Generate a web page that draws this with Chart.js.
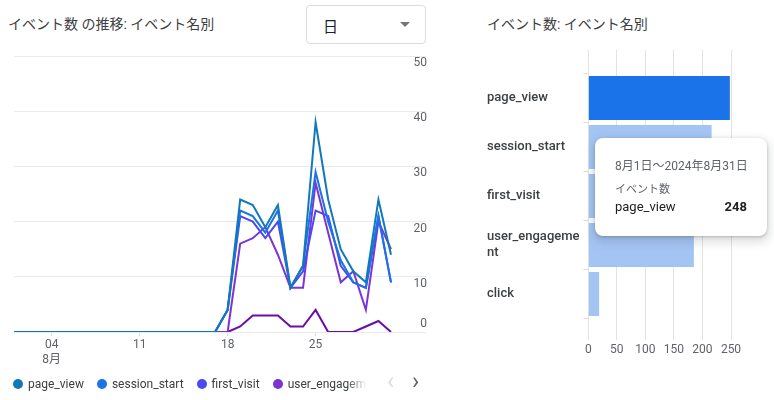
<!DOCTYPE html>
<html lang="ja">
<head>
<meta charset="utf-8">
<title>イベント数</title>
<script src="https://cdn.jsdelivr.net/npm/chart.js@4.4.1/dist/chart.umd.min.js"></script>
<style>
  html, body { margin: 0; padding: 0; background: #fff; }
  body { width: 774px; height: 400px; position: relative; overflow: hidden;
         font-family: Roboto, "Noto Sans CJK JP", sans-serif; }
  .title { position: absolute; top: 15px; font-size: 14px; line-height: 18px; color: #3c4043; white-space: nowrap; }
  .select { position: absolute; left: 306px; top: 5px; width: 118px; height: 37px;
            border: 1px solid #dadce0; border-radius: 4px; }
  .select span { position: absolute; left: 16px; top: 9px; font-size: 15px; color: #202124; }
  .select i { position: absolute; right: 15px; top: 16px; width: 0; height: 0;
              border-left: 5px solid transparent; border-right: 5px solid transparent; border-top: 5px solid #757575; }
  canvas { position: absolute; }
  #legend { position: absolute; left: 13px; top: 374px; width: 354px; height: 18px; overflow: hidden; white-space: nowrap;
            -webkit-mask-image: linear-gradient(to right, #000 334px, transparent 354px);
            mask-image: linear-gradient(to right, #000 334px, transparent 354px); }
  .item { display: inline-flex; align-items: center; margin-right: 13px; font-size: 12px; color: #3c4043; height: 18px; }
  .dot { width: 10px; height: 10px; border-radius: 50%; margin-right: 5px; }
  .arrow { position: absolute; top: 368px; font-size: 24px; line-height: 26px; }
  .tip { position: absolute; left: 595px; top: 138px; width: 172px; height: 98px; background: #fff;
         border-radius: 8px; box-shadow: 0 1px 3px rgba(60,64,67,.3), 0 4px 8px 3px rgba(60,64,67,.15); }
  .tip div { position: absolute; left: 20px; white-space: nowrap; }
  .tip .range { top: 18px; font-size: 12px; color: #5f6368; }
  .tip .metric { top: 42px; font-size: 11px; color: #5f6368; }
  .tip .name { top: 61px; font-size: 13px; color: #202124; }
  .tip .val { top: 61px; left: auto; right: 20px; font-size: 13px; font-weight: 700; color: #202124; }
</style>
</head>
<body>
<div class="title" style="left:8px">イベント数 の推移: イベント名別</div>
<div class="select"><span>日</span><i></i></div>
<div class="title" style="left:487px">イベント数: イベント名別</div>

<canvas id="lineChart" width="440" height="320" style="left:0;top:50px"></canvas>
<canvas id="barChart" width="287" height="320" style="left:487px;top:50px"></canvas>

<div id="legend"></div>
<div class="arrow" style="left:387px;color:#dadce0">‹</div>
<div class="arrow" style="left:412px;color:#5f6368">›</div>

<div class="tip">
  <div class="range">8月1日〜2024年8月31日</div>
  <div class="metric">イベント数</div>
  <div class="name">page_view</div>
  <div class="val">248</div>
</div>

<script>
// 8月の日付
const days = ['01','02','03','04','05','06','07','08','09','10','11','12','13','14','15','16',
              '17','18','19','20','21','22','23','24','25','26','27','28','29','30','31'];
const tickDays = ['04', '11', '18', '25'];
const monthLabel = '8月';

const eventNames = ['page_view', 'session_start', 'first_visit', 'user_engagement', 'click'];
const lineColors = ['#1179b8', '#1a73e8', '#4a4aef', '#7b35d5', '#6a0ea6'];

const pageView       = [0,0,0,0,0,0,0,0,0,0,0,0,0,0,0,0,0, 4,24,23,19,23, 8,12,38,24,15,11, 9,24,14];
const sessionStart   = [0,0,0,0,0,0,0,0,0,0,0,0,0,0,0,0,0, 4,22,21,18,22, 8,12,29,20,13, 9, 8,21, 9];
const firstVisit     = [0,0,0,0,0,0,0,0,0,0,0,0,0,0,0,0,0, 4,21,20,17,20, 8,11,22,21,12, 9, 8,21, 9];
const userEngagement = [0,0,0,0,0,0,0,0,0,0,0,0,0,0,0,0,0, 0,16,17,19,14, 8, 8,27,18, 9,11, 4,20,15];
const click          = [0,0,0,0,0,0,0,0,0,0,0,0,0,0,0,0,0, 0, 1, 3, 3, 3, 1, 1, 4, 0, 0, 0, 1, 2, 0];

const lineTicks = [0, 10, 20, 30, 40, 50];

// 期間合計
const totals = [248, 216, 203, 185, 19];
const barTicks = [0, 50, 100, 150, 200, 250];

Chart.defaults.font.family = 'Roboto, "Noto Sans CJK JP", sans-serif';
Chart.defaults.color = '#5f6368';

// legend
const legend = document.getElementById('legend');
legend.innerHTML = eventNames.map((n, i) =>
  `<span class="item"><span class="dot" style="background:${lineColors[i]}"></span>${n}</span>`).join('');

// y labels sit just under their grid line (0 sits above)
const yLabels = {
  id: 'yLabels',
  afterDraw(chart) {
    const s = chart.scales.y;
    const ctx = chart.ctx;
    ctx.save();
    ctx.font = '12px Roboto, sans-serif';
    ctx.fillStyle = '#5f6368';
    ctx.textAlign = 'right';
    ctx.textBaseline = 'middle';
    lineTicks.forEach(v => {
      const y = s.getPixelForValue(v);
      ctx.fillText(String(v), 427, v === 0 ? y - 8 : y + 7);
    });
    ctx.restore();
  }
};

const series = [pageView, sessionStart, firstVisit, userEngagement, click];

new Chart(document.getElementById('lineChart'), {
  type: 'line',
  data: {
    labels: days,
    datasets: eventNames.map((n, i) => ({
      label: n,
      data: series[i],
      borderColor: lineColors[i],
      borderWidth: 2,
      pointRadius: 0,
      tension: 0,
      fill: false
    }))
  },
  options: {
    responsive: false,
    animation: false,
    layout: { padding: { left: 14, top: 6 } },
    plugins: { legend: { display: false }, tooltip: { enabled: false } },
    scales: {
      x: {
        grid: {
          drawOnChartArea: false,
          tickLength: 4,
          color: ctx => tickDays.includes(days[ctx.index]) ? '#dadce0' : 'rgba(0,0,0,0)'
        },
        border: { display: false },
        ticks: {
          autoSkip: false,
          maxRotation: 0,
          padding: 2,
          font: { size: 12 },
          callback: function (v, i) {
            const d = days[i];
            if (!tickDays.includes(d)) return '';
            return i === days.indexOf(tickDays[0]) ? [d, monthLabel] : d;
          }
        },
        afterFit: s => { s.height = 38; }
      },
      y: {
        position: 'right',
        min: lineTicks[0],
        max: lineTicks[lineTicks.length - 1],
        ticks: { stepSize: 10, display: false },
        grid: { color: '#e8eaed', tickLength: 35 },
        border: { display: false },
        afterFit: s => { s.width = 49; }
      }
    }
  },
  plugins: [yLabels]
});

new Chart(document.getElementById('barChart'), {
  type: 'bar',
  data: {
    labels: eventNames,
    datasets: [{
      data: totals,
      backgroundColor: eventNames.map((n, i) => i === 0 ? '#1a73e8' : '#a4c5f4'),
      barPercentage: 0.9,
      categoryPercentage: 1
    }]
  },
  options: {
    indexAxis: 'y',
    responsive: false,
    animation: false,
    layout: { padding: { right: 43 } },
    plugins: { legend: { display: false }, tooltip: { enabled: false } },
    scales: {
      x: {
        min: barTicks[0],
        max: barTicks[barTicks.length - 1],
        ticks: { stepSize: 50, padding: 3, maxRotation: 0, font: { size: 12 } },
        grid: { color: '#e3e3e3', tickLength: 21.5 },
        border: { display: false },
        afterFit: s => { s.height = 51.5; }
      },
      x2: {
        type: 'linear',
        axis: 'x',
        position: 'top',
        min: barTicks[0],
        max: barTicks[barTicks.length - 1],
        ticks: { stepSize: 50, display: false },
        grid: { color: '#e3e3e3', tickLength: 23.5, drawOnChartArea: false },
        border: { display: false },
        afterFit: s => { s.height = 23.5; }
      },
      y: {
        ticks: {
          crossAlign: 'far',
          color: '#3c4043',
          font: { size: 13, weight: '500' },
          callback: function (v) {
            const s = this.getLabelForValue(v);
            return s.length > 13 ? [s.slice(0, 13), s.slice(13)] : s;
          }
        },
        grid: { drawOnChartArea: false, tickLength: 5, color: '#dadce0' },
        border: { display: false },
        afterFit: s => { s.width = 101.3; }
      }
    }
  }
});
</script>
</body>
</html>
